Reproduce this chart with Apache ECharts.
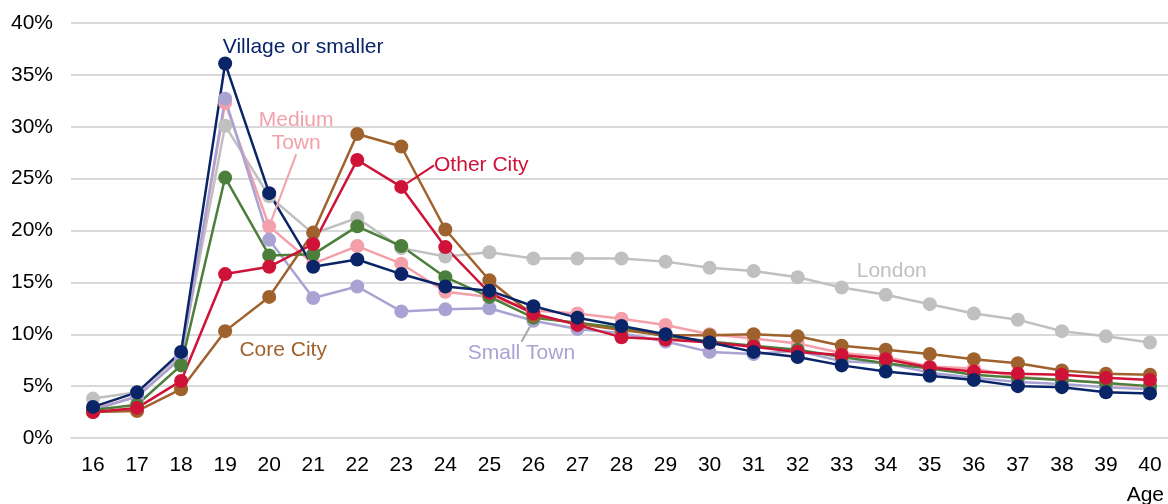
<!DOCTYPE html>
<html>
<head>
<meta charset="utf-8">
<script src="https://cdn.jsdelivr.net/npm/echarts@6/dist/echarts.min.js"></script>
<style>
html,body{margin:0;padding:0;background:#fff;}
#chart{width:1168px;height:504px;}
</style>
</head>
<body>
<div id="chart"></div>
<script>
const ages = ['16','17','18','19','20','21','22','23','24','25','26','27','28','29','30','31','32','33','34','35','36','37','38','39','40'];
const yTicks = [0, 5, 10, 15, 20, 25, 30, 35, 40];

const london     = [3.8,4.4,8.0,30.1,23.3,19.7,21.2,18.3,17.5,17.9,17.3,17.3,17.3,17.0,16.4,16.1,15.5,14.5,13.8,12.9,12.0,11.4,10.3,9.8,9.2];
const mediumTown = [2.8,4.0,7.7,32.3,20.4,16.8,18.5,16.8,14.1,13.6,12.3,12.0,11.5,10.9,10.0,9.6,9.1,8.2,7.8,6.9,6.7,5.9,5.6,5.3,4.9];
const smallTown  = [2.7,4.0,7.7,32.7,19.1,13.5,14.6,12.2,12.4,12.5,11.3,10.5,10.1,9.3,8.3,8.1,8.4,7.4,7.2,6.3,5.8,5.4,5.2,4.9,4.7];
const largeTown  = [2.7,3.2,7.0,25.1,17.6,17.7,20.4,18.5,15.5,13.6,11.6,11.1,10.6,9.8,9.3,8.9,8.5,7.8,7.2,6.7,6.1,5.8,5.6,5.3,5.0];
const coreCity   = [2.5,2.6,4.7,10.3,13.6,19.8,29.3,28.1,20.1,15.2,11.8,11.0,10.4,9.9,9.9,10.0,9.8,8.9,8.5,8.1,7.6,7.2,6.5,6.2,6.1];
const otherCity  = [2.5,2.9,5.5,15.8,16.5,18.7,26.8,24.2,18.4,14.0,12.0,10.9,9.7,9.5,9.2,8.8,8.3,8.0,7.6,6.8,6.4,6.2,6.1,5.8,5.6];
const village    = [3.0,4.4,8.3,36.1,23.6,16.5,17.2,15.8,14.6,14.2,12.7,11.6,10.8,10.0,9.2,8.3,7.8,7.0,6.4,6.0,5.6,5.0,4.9,4.4,4.3];

const FONT = 'Liberation Sans, Arial, sans-serif';
const FS = 21;

function mk(name, values, color, ann) {
  const data = values.map((v, i) => {
    if (ann && i === ann.index) {
      return {
        value: v,
        label: {
          show: true,
          position: 'top',
          formatter: ann.text,
          color: color,
          fontFamily: FONT,
          fontSize: FS,
          lineHeight: 23,
          align: 'center'
        },
        labelLine: { show: !!ann.line, lineStyle: { color: ann.lineColor || color, width: 2 } }
      };
    }
    return v;
  });
  return {
    name: name,
    type: 'line',
    data: data,
    symbol: 'circle',
    symbolSize: 14,
    lineStyle: { color: color, width: 2.5 },
    itemStyle: { color: color },
    label: { show: false },
    labelLayout: ann ? function (p) {
      if (p.dataIndex === ann.index) return { dx: ann.dx, dy: ann.dy };
      return {};
    } : undefined,
    emphasis: { disabled: true },
    animation: false
  };
}

const option = {
  animation: false,
  grid: { left: 71, top: 23, width: 1101, height: 415, containLabel: false, outerBoundsMode: 'none' },
  xAxis: {
    type: 'category',
    data: ages,
    boundaryGap: true,
    axisLine: { show: true, lineStyle: { color: '#d9d9d9', width: 2 } },
    axisTick: { show: false },
    axisLabel: { color: '#000', fontFamily: FONT, fontSize: FS, margin: 17 },
    name: 'Age',
    nameLocation: 'end',
    nameGap: 0,
    nameTextStyle: { color: '#000', fontFamily: FONT, fontSize: FS, align: 'right', verticalAlign: 'top', padding: [47, 8, 0, 0] }
  },
  yAxis: {
    type: 'value',
    min: yTicks[0],
    max: yTicks[yTicks.length - 1],
    interval: 5,
    axisLine: { show: false },
    axisTick: { show: false },
    splitLine: { lineStyle: { color: '#d9d9d9', width: 2 } },
    axisLabel: { color: '#000', fontFamily: FONT, fontSize: FS, margin: 18, formatter: '{value}%' }
  },
  series: [
    mk('London', london, '#c0c0c0', { index: 18, text: 'London', dx: 6, dy: 0 }),
    mk('Medium Town', mediumTown, '#f4a0aa', { index: 4, text: 'Medium\nTown', dx: 27, dy: -60, line: true }),
    mk('Small Town', smallTown, '#a9a3d4', { index: 10, text: 'Small Town', dx: -12, dy: 56, line: true, lineColor: '#a6a6a6' }),
    mk('Large Town', largeTown, '#4b7f3b'),
    mk('Core City', coreCity, '#a0622d', { index: 3, text: 'Core City', dx: 58, dy: 43 }),
    mk('Other City', otherCity, '#cf1238', { index: 7, text: 'Other City', dx: 80, dy: 2, line: true }),
    mk('Village or smaller', village, '#0a2468', { index: 3, text: 'Village or smaller', dx: 78, dy: 7 })
  ]
};

const chart = echarts.init(document.getElementById('chart'), null, { renderer: 'canvas' });
chart.setOption(option);
</script>
</body>
</html>
